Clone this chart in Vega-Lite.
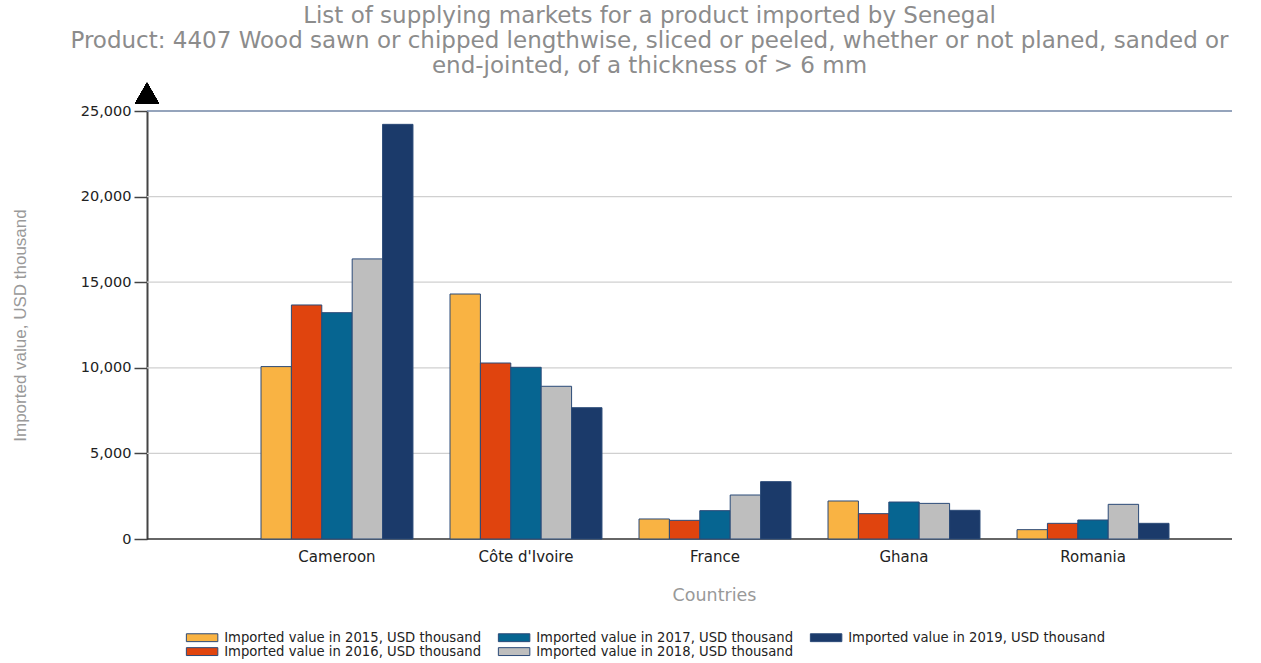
{
  "$schema": "https://vega.github.io/schema/vega-lite/v6.json",
  "width": 1085,
  "height": 428,
  "autosize": {"type": "none"},
  "padding": {"left": 147, "top": 111, "right": 29, "bottom": 124},
  "background": "white",
  "title": {
    "text": ["List of supplying markets for a product imported by Senegal", "Product: 4407 Wood sawn or chipped lengthwise, sliced or peeled, whether or not planed, sanded or", "end-jointed, of a thickness of > 6 mm"],
    "font": "DejaVu Sans",
    "fontSize": 23,
    "fontWeight": "normal",
    "lineHeight": 25,
    "color": "#8c8c8c",
    "anchor": "middle",
    "dx": -40,
    "offset": 5
  },
  "config": {
    "view": {"stroke": null},
    "axis": {"labelFont": "DejaVu Sans", "titleFont": "DejaVu Sans"}
  },
  "data": {
    "values": [
      {"country": "Cameroon", "year": "2015", "value": 10070},
      {"country": "Cameroon", "year": "2016", "value": 13670},
      {"country": "Cameroon", "year": "2017", "value": 13220},
      {"country": "Cameroon", "year": "2018", "value": 16360},
      {"country": "Cameroon", "year": "2019", "value": 24220},
      {"country": "Côte d'Ivoire", "year": "2015", "value": 14310},
      {"country": "Côte d'Ivoire", "year": "2016", "value": 10280},
      {"country": "Côte d'Ivoire", "year": "2017", "value": 10030},
      {"country": "Côte d'Ivoire", "year": "2018", "value": 8920},
      {"country": "Côte d'Ivoire", "year": "2019", "value": 7670},
      {"country": "France", "year": "2015", "value": 1170},
      {"country": "France", "year": "2016", "value": 1090},
      {"country": "France", "year": "2017", "value": 1655},
      {"country": "France", "year": "2018", "value": 2570},
      {"country": "France", "year": "2019", "value": 3350},
      {"country": "Ghana", "year": "2015", "value": 2220},
      {"country": "Ghana", "year": "2016", "value": 1480},
      {"country": "Ghana", "year": "2017", "value": 2160},
      {"country": "Ghana", "year": "2018", "value": 2080},
      {"country": "Ghana", "year": "2019", "value": 1675},
      {"country": "Romania", "year": "2015", "value": 545},
      {"country": "Romania", "year": "2016", "value": 915},
      {"country": "Romania", "year": "2017", "value": 1110},
      {"country": "Romania", "year": "2018", "value": 2025},
      {"country": "Romania", "year": "2019", "value": 915}
    ]
  },
  "resolve": {"scale": {"x": "independent"}},
  "layer": [
    {
      "data": {"values": [{"v": 0}, {"v": 5000}, {"v": 10000}, {"v": 15000}, {"v": 20000}, {"v": 25000}]},
      "mark": {"type": "rule"},
      "encoding": {
        "y": {
          "field": "v",
          "type": "quantitative",
          "scale": {"domain": [0, 25000], "nice": false},
          "axis": {
            "title": "Imported value, USD thousand",
            "values": [0, 5000, 10000, 15000, 20000, 25000],
            "format": ",d",
            "grid": false,
            "labelFontSize": 14.5,
            "labelColor": "#222222",
            "labelPadding": 3,
            "tickSize": 13,
            "tickColor": "#444444",
            "tickWidth": 1.5,
            "domainColor": "#444444",
            "domainWidth": 2,
            "titleColor": "#999999",
            "titleFont": "Liberation Sans",
            "titleFontSize": 17,
            "titleFontWeight": "normal",
            "titleX": -127,
            "titleY": 214,
            "titleAngle": -90,
            "titleBaseline": "middle",
            "titleAlign": "center"
          }
        },
        "stroke": {"condition": [{"test": "datum.v === 25000", "value": "#7286a6"}, {"test": "datum.v === 0", "value": "#333333"}], "value": "#d0d0d0"},
        "strokeWidth": {"condition": [{"test": "datum.v === 25000", "value": 1.5}, {"test": "datum.v === 0", "value": 1.5}], "value": 1.2}
      }
    },
    {
      "mark": {"type": "bar", "stroke": "#2b4a78", "strokeWidth": 1},
      "encoding": {
        "x": {
          "field": "country",
          "type": "nominal",
          "sort": null,
          "scale": {"range": [114, 1022], "paddingInner": 0.196, "paddingOuter": 0},
          "axis": {
            "title": "Countries",
            "labelAngle": 0,
            "labelFontSize": 15,
            "labelColor": "#222222",
            "labelPadding": 10,
            "ticks": false,
            "domain": false,
            "titleColor": "#999999",
            "titleFontSize": 17.5,
            "titleFontWeight": "normal",
            "titleX": 567,
            "titleY": 56,
            "titleBaseline": "middle",
            "titleAlign": "center"
          }
        },
        "xOffset": {"field": "year", "type": "nominal", "scale": {"domain": ["2015", "2016", "2017", "2018", "2019"], "paddingInner": 0, "paddingOuter": 0}},
        "y": {
          "field": "value",
          "type": "quantitative",
          "scale": {"domain": [0, 25000], "nice": false},
          "axis": {
            "title": "Imported value, USD thousand",
            "values": [0, 5000, 10000, 15000, 20000, 25000],
            "format": ",d",
            "grid": false,
            "labelFontSize": 14.5,
            "labelColor": "#222222",
            "labelPadding": 3,
            "tickSize": 13,
            "tickColor": "#444444",
            "tickWidth": 1.5,
            "domainColor": "#444444",
            "domainWidth": 2,
            "titleColor": "#999999",
            "titleFont": "Liberation Sans",
            "titleFontSize": 17,
            "titleFontWeight": "normal",
            "titleX": -127,
            "titleY": 214,
            "titleAngle": -90,
            "titleBaseline": "middle",
            "titleAlign": "center"
          }
        },
        "color": {
          "field": "year",
          "type": "nominal",
          "scale": {
            "domain": ["2015", "2017", "2019", "2016", "2018"],
            "range": ["#f9b343", "#066591", "#1b3a6a", "#e0440e", "#bebebe"]
          },
          "legend": {
            "orient": "none",
            "direction": "horizontal",
            "columns": 3,
            "legendX": 48.5,
            "legendY": 520,
            "title": null,
            "labelExpr": "'Imported value in ' + datum.label + ', USD thousand'",
            "labelFont": "DejaVu Sans",
            "labelFontSize": 13.2,
            "labelLimit": 400,
            "labelColor": "#222222",
            "labelOffset": 15.5,
            "symbolType": "M-3,-0.75H3V0.75H-3Z",
            "symbolSize": 110,
            "symbolStrokeColor": "#2b4a78",
            "symbolStrokeWidth": 1,
            "symbolOpacity": 1,
            "columnPadding": 14,
            "rowPadding": 0
          }
        }
      }
    },
    {
      "mark": {"type": "point", "shape": "triangle-up", "filled": true, "color": "black", "opacity": 1, "size": 550},
      "encoding": {
        "x": {"datum": 0, "type": "quantitative", "scale": {"domain": [0, 1]}, "axis": null},
        "y": {"datum": 26050, "type": "quantitative"}
      }
    }
  ]
}
